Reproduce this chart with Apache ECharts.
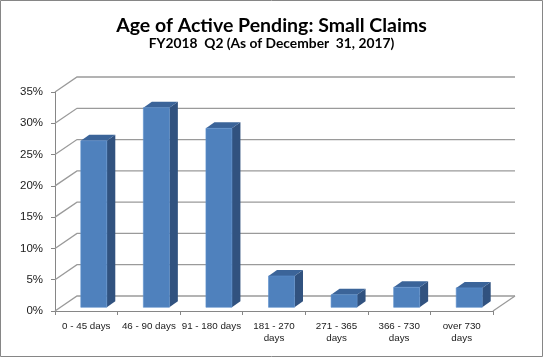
<!DOCTYPE html>
<html>
<head>
<meta charset="utf-8">
<script src="https://cdn.jsdelivr.net/npm/echarts@6/dist/echarts.min.js"></script>
<style>
html,body{margin:0;padding:0;background:#fff;}
#chart{width:543px;height:357px;}
</style>
</head>
<body>
<div id="chart"></div>
<script>
const titleText = 'Age of Active Pending: Small Claims';
const subtitleText = 'FY2018  Q2 (As of December  31, 2017)';
const categories = ['0 - 45 days', '46 - 90 days', '91 - 180 days', '181 - 270 days', '271 - 365 days', '366 - 730 days', 'over 730 days'];
const xLabels = ['0 - 45 days', '46 - 90 days', '91 - 180 days', '181 - 270\ndays', '271 - 365\ndays', '366 - 730\ndays', 'over 730\ndays'];
const values = [26.6, 31.9, 28.6, 5.0, 2.0, 3.2, 3.1];
const yTicks = [0, 5, 10, 15, 20, 25, 30, 35];

const chart = echarts.init(document.getElementById('chart'), null, {renderer: 'canvas'});

const WALL_DX = 22, WALL_DY = -15;
const BAR_OX = 7.5, BAR_OY = -3.7, BAR_HW = 13, BAR_DX = 8.5, BAR_DY = -6;

function renderWall(params, api) {
  const cs = params.coordSys;
  const t = api.value(1);
  const y = api.coord([0, t])[1];
  const x0 = cs.x, x1 = cs.x + cs.width;
  const children = [{
    type: 'polyline',
    shape: {points: [[x0, y], [x0 + WALL_DX, y + WALL_DY], [x1 + WALL_DX, y + WALL_DY]]},
    style: {stroke: '#9a9a9a', lineWidth: 1.3, fill: null}
  }];
  if (t === 0) {
    children.push({
      type: 'line',
      shape: {x1: x1, y1: y, x2: x1 + WALL_DX, y2: y + WALL_DY},
      style: {stroke: '#9a9a9a', lineWidth: 1.3}
    });
  }
  return {type: 'group', children: children};
}

function renderBar(params, api) {
  const i = api.value(0), v = api.value(1);
  const c0 = api.coord([i, 0]);
  const c1 = api.coord([i, v]);
  const cx = c0[0] + BAR_OX;
  const by = c0[1] + BAR_OY;
  const ty = c1[1] + BAR_OY;
  const l = cx - BAR_HW, r = cx + BAR_HW;
  return {
    type: 'group',
    children: [
      {type: 'polygon', shape: {points: [[r, ty], [r + BAR_DX, ty + BAR_DY], [r + BAR_DX, by + BAR_DY], [r, by]]},
        style: {fill: '#31527f'}},
      {type: 'polygon', shape: {points: [[l, ty], [l + BAR_DX, ty + BAR_DY], [r + BAR_DX, ty + BAR_DY], [r, ty]]},
        style: {fill: '#3b6499'}},
      {type: 'rect', shape: {x: l, y: ty, width: r - l, height: by - ty},
        style: {fill: '#4f81bd', stroke: '#5d8fcc', lineWidth: 0.6}}
    ]
  };
}

chart.setOption({
  animation: false,
  backgroundColor: '#fff',
  title: [{
    text: titleText,
    left: 'center', top: 16, padding: 0,
    textStyle: {fontFamily: 'Lato', fontWeight: 'bold', fontSize: 19.5, color: '#000'}
  }, {
    text: subtitleText,
    left: 'center', top: 37, padding: 0,
    textStyle: {fontFamily: 'Lato', fontWeight: 'bold', fontSize: 13.8, color: '#000'}
  }],
  graphic: [{
    type: 'rect', shape: {x: 0.5, y: 0.5, width: 542, height: 356},
    style: {fill: null, stroke: '#868686', lineWidth: 1}, z: 100
  }],
  grid: {left: 55, right: 50, top: 92, bottom: 46},
  xAxis: {
    type: 'category', data: categories, boundaryGap: true,
    axisLine: {show: true, lineStyle: {color: '#868686', width: 1}},
    axisTick: {show: true, length: 4, lineStyle: {color: '#868686'}},
    axisLabel: {
      formatter: (v, idx) => xLabels[idx],
      fontFamily: 'Liberation Sans', fontSize: 9.8, lineHeight: 12, color: '#1a1a1a', margin: 9, interval: 0
    },
    splitLine: {show: false}
  },
  yAxis: {
    type: 'value', min: 0, max: 35, interval: 5,
    axisLine: {show: true, lineStyle: {color: '#868686', width: 1}},
    axisTick: {show: true, length: 4, lineStyle: {color: '#868686'}},
    axisLabel: {formatter: '{value}%', fontFamily: 'Liberation Sans', fontSize: 11.5, color: '#1a1a1a', margin: 12},
    splitLine: {show: false}
  },
  series: [{
    type: 'custom', renderItem: renderWall, z: 1,
    data: yTicks.map(t => [0, t]), silent: true
  }, {
    type: 'custom', renderItem: renderBar, z: 5,
    data: values.map((v, i) => [i, v])
  }]
});
</script>
</body>
</html>
